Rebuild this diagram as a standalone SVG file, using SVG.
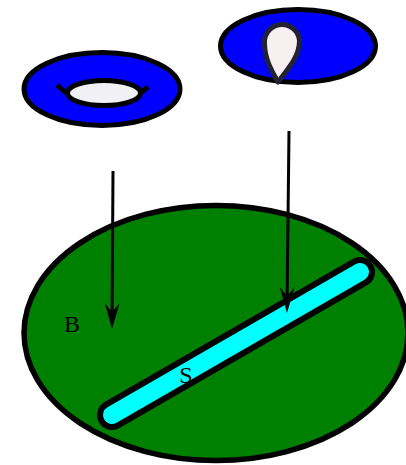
<svg xmlns="http://www.w3.org/2000/svg" width="406" height="465" viewBox="0 0 406 465">
<defs>
<style>
.outline{stroke:#000;stroke-width:5}
.blue{fill:#0000ff}
.conn{stroke:#000;stroke-width:3;fill:none}
.lbl{font-family:"Liberation Serif","Times New Roman",serif;font-size:24px;fill:#000}
</style>
<marker id="ah" markerUnits="userSpaceOnUse" viewBox="-28 -9 30 18" refX="-13" refY="0" markerWidth="30" markerHeight="18" orient="auto" overflow="visible">
<path d="M0,0 L-26,-7.5 L-17,0 L-26,7.5 Z" fill="#000"/>
</marker>
</defs>
<g id="base">
<ellipse cx="216" cy="333" rx="192" ry="127.5" fill="#008000" stroke="#000" stroke-width="5.5"/>
<text x="72" y="332" class="lbl" text-anchor="middle">B</text>
</g>
<g id="strip">
<line x1="112" y1="415" x2="360" y2="272" stroke="#000" stroke-width="30" stroke-linecap="round"/>
<line x1="112" y1="415" x2="360" y2="272" stroke="#00ffff" stroke-width="18" stroke-linecap="round"/>
<text x="186" y="383" class="lbl" text-anchor="middle">S</text>
</g>
<g id="disk-left">
<ellipse cx="102" cy="89" rx="78" ry="36.5" class="blue outline"/>
<ellipse cx="104" cy="93" rx="36.5" ry="12.5" fill="#f0f0f5" class="outline"/>
<path d="M57,85 L66,93 M148,87 L140,93" class="outline" fill="none"/>
</g>
<g id="disk-right">
<ellipse cx="298" cy="46" rx="77.5" ry="36.5" class="blue outline"/>
<path d="M278,82 C271,70 264.5,58 264.5,43 A17.5,17.5 0 0 1 299.5,41 C299.5,56 289,68 278,82 Z" fill="#f8f0f0" stroke="#222233" stroke-width="5" stroke-linejoin="round"/>
</g>
<g id="connectors">
<line x1="113" y1="171" x2="112.1" y2="316" class="conn" marker-end="url(#ah)"/>
<line x1="289" y1="131" x2="287.1" y2="300" class="conn" marker-end="url(#ah)"/>
</g>
</svg>
